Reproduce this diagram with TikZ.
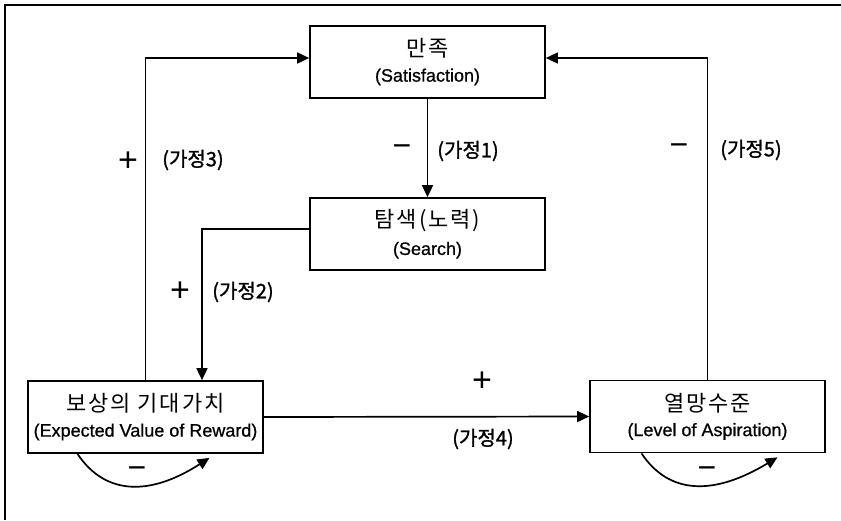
\documentclass[tikz,border=0pt]{standalone}
\usepackage{fontspec}
\setmainfont{Liberation Sans}[FakeBold=0.8,AutoFakeBold=0.8]
\newfontfamily\signf{Liberation Sans}
\newfontfamily\kr{Noto Sans CJK KR}[LetterSpace=9]
\newfontfamily\krb{Noto Sans CJK KR}[FakeBold=1.2]
\usetikzlibrary{arrows.meta}
\begin{document}
\begin{tikzpicture}[x=1pt,y=-1pt,
  box/.style={draw,line width=1.7pt,minimum width=235pt,minimum height=72pt,align=center,inner sep=0pt},
  conn/.style={line width=1.7pt,-{Triangle[length=12pt,width=11pt]}},
  lab/.style={font=\krb\fontsize{20}{20}\selectfont,inner sep=0pt},
  plus/.style={font=\signf\fontsize{34}{34}\selectfont,inner sep=0pt},
  minus/.style={font=\signf\fontsize{32}{32}\selectfont,inner sep=0pt}]
\useasboundingbox (0,0) rectangle (841,520);
\draw[line width=2pt] (5,520) -- (5,4.5) -- (841,4.5);
\newcommand{\boxtext}[2]{{\kr\fontsize{22}{22}\selectfont #1}\\[9pt]{\bfseries\fontsize{18}{18}\selectfont #2}}
\node[box] (sat) at (427.5,62) {\boxtext{만족}{(Satisfaction)}};
\node[box] (sea) at (427.5,234) {\boxtext{탐색(노력)}{(Search)}};
\node[box] (exp) at (145.5,417) {\boxtext{보상의\hspace{0.3em}기대가치}{(Expected Value of Reward)}};
\node[box] (asp) at (707.5,416.5) {\boxtext{열망수준}{(Level of Aspiration)}};
\draw[conn] (sat) -- (sea);
\draw[conn] (exp.north) |- ([yshift=4pt]sat.west);
\draw[conn] (asp.north) |- ([yshift=4pt]sat.east);
\draw[conn] ([yshift=5pt]sea.west) -| ([xshift=56.5pt]exp.north);
\draw[conn] (exp.east) -- (asp.west);
\draw[conn] ([xshift=-68pt]exp.south) .. controls ([xshift=-40pt,yshift=-42pt]exp.south) and ([xshift=5pt,yshift=-42pt]exp.south) .. ([xshift=64pt,yshift=-4pt]exp.south);
\draw[conn] ([xshift=-66pt]asp.south) .. controls ([xshift=-38pt,yshift=-42pt]asp.south) and ([xshift=7pt,yshift=-42pt]asp.south) .. ([xshift=70pt,yshift=-4pt]asp.south);
\node[plus] (p3) at (128,162) {+};
\node[lab] (l3) at (193,160) {(가정3)};
\node[minus] (m1) at (402,151) {−};
\node[lab] (l1) at (468,151) {(가정1)};
\node[minus] (m5) at (679,150) {−};
\node[lab] (l5) at (751,150) {(가정5)};
\node[plus] (p2) at (180,292) {+};
\node[lab] (l2) at (243,292) {(가정2)};
\node[plus] (p4) at (482,382) {+};
\node[lab] (l4) at (483,439) {(가정4)};
\node[minus] (m6) at (137,473) {−};
\node[minus] (m7) at (707,473) {−};
\end{tikzpicture}
\end{document}
